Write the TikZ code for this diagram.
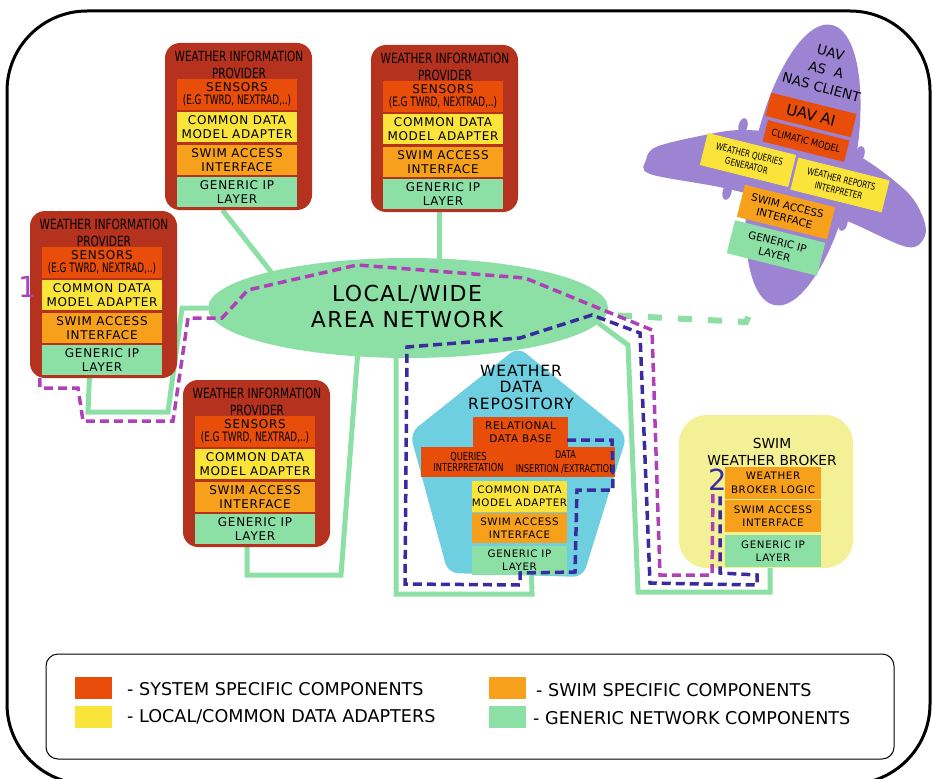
\documentclass[tikz,border=0pt]{standalone}
\usepackage{fontspec}
\setmainfont{DejaVu Sans}
\newfontfamily\trk{DejaVu Sans}[LetterSpace=6]
\newfontfamily\condA{DejaVu Sans}[FakeStretch=0.85]
\newfontfamily\condB{DejaVu Sans}[FakeStretch=0.75]
\newfontfamily\condC{DejaVu Sans}[FakeStretch=0.68]
\usetikzlibrary{backgrounds,calc,shapes.geometric}

\definecolor{provred}{RGB}{181,50,30}
\definecolor{sysred}{RGB}{232,78,10}
\definecolor{adapty}{RGB}{250,228,58}
\definecolor{swimor}{RGB}{246,160,28}
\definecolor{netgreen}{RGB}{140,224,166}
\definecolor{repoblue}{RGB}{110,207,224}
\definecolor{brokery}{RGB}{243,240,150}
\definecolor{uavpurple}{RGB}{157,132,210}
\definecolor{pathpurple}{RGB}{176,64,184}
\definecolor{pathblue}{RGB}{58,44,158}

% one weather information provider, placed by its top-left corner
\newcommand\wxprovider[3]{%
  \begin{scope}[shift={(#2,#3)}]
    \node[provbox] (#1) at (73.5,83.5) {};
    \node[provtitle] (#1t) at (74,22) {WEATHER INFORMATION\\PROVIDER};
    \node[syslayer, minimum height=31pt] (#1sen) at (72,51.5) {SENSORS\\{\condC\fontsize{13}{13.5}\selectfont (E.G TWRD, NEXTRAD,..)}};
    \node[cdmlayer] (#1cdm) at (72,84) {COMMON DATA\\MODEL ADAPTER};
    \node[swimlayer] (#1swim) at (72,117) {SWIM ACCESS\\INTERFACE};
    \node[genlayer] (#1gen) at (72,149) {GENERIC IP\\LAYER};
  \end{scope}}

\begin{document}
\begin{tikzpicture}[x=1pt,y=-1pt,
  provbox/.style={fill=provred, rounded corners=15pt, minimum width=147pt, minimum height=167pt, inner sep=0pt},
  provtitle/.style={align=center, inner sep=0pt, font=\condB\fontsize{14}{17}\selectfont},
  layer/.style={minimum width=120pt, minimum height=30pt, inner sep=0pt, align=center, font=\trk\fontsize{12}{13.5}\selectfont},
  syslayer/.style={layer, fill=sysred},
  cdmlayer/.style={layer, fill=adapty},
  swimlayer/.style={layer, fill=swimor},
  genlayer/.style={layer, fill=netgreen},
  small/.style={font=\trk\fontsize{10.3}{13}\selectfont},
  netlink/.style={draw=netgreen, line width=5pt},
  netdash/.style={draw=netgreen, line width=6pt, dash pattern=on 14pt off 16pt},
  routeA/.style={draw=pathpurple, line width=3.5pt, dash pattern=on 9pt off 5pt},
  routeB/.style={draw=pathblue, line width=3.5pt, dash pattern=on 9pt off 5pt},
  uavbox/.style={rotate=-14, inner sep=0pt, align=center},
  legsw/.style={minimum width=37pt, minimum height=22pt, inner sep=0pt},
  legtx/.style={anchor=west, inner sep=0pt, font=\fontsize{17.6}{20}\selectfont}]

\useasboundingbox (0,0) rectangle (933,778);

% outer frame
\draw[line width=3pt, rounded corners=80pt] (7,11) rectangle (930,784);

% providers
\wxprovider{pa}{165}{43}
\wxprovider{pb}{371}{45}
\wxprovider{pc}{30}{211}
\wxprovider{pd}{183}{380}

% network cloud
\node[ellipse, fill=netgreen, minimum width=400pt, minimum height=100pt, inner sep=0pt] (net) at (408,308) {};
\node[align=center, inner sep=0pt, font=\trk\fontsize{22}{26}\selectfont] (nett) at (407,306) {LOCAL/WIDE\\AREA NETWORK};

% weather data repository
\fill[repoblue, rounded corners=10pt] (518,347) -- (627,435) -- (583,577) -- (448,573) -- (410,433) -- cycle;
\node[align=center, inner sep=0pt, font=\trk\fontsize{15.5}{16.5}\selectfont] (repo) at (521,387) {WEATHER\\DATA\\REPOSITORY};
\node[syslayer, minimum width=95pt, font=\trk\fontsize{10.5}{12.5}\selectfont] (rdb) at (520.5,432) {RELATIONAL\\DATA BASE};
\node[syslayer, minimum width=95pt, font=\condB\fontsize{11}{11.5}\selectfont] (rqi) at (468.5,462) {QUERIES\\INTERPRETATION};
\node[syslayer, minimum width=95pt, font=\condB\fontsize{10.7}{14}\selectfont] (rdi) at (565.5,462) {DATA\\INSERTION /EXTRACTION};
\node[cdmlayer, minimum width=95pt, minimum height=31pt, small] (rcdm) at (519.5,496.5) {COMMON DATA\\MODEL ADAPTER};
\node[swimlayer, minimum width=95pt, small] (rswim) at (519.5,528) {SWIM ACCESS\\INTERFACE};
\node[genlayer, minimum width=95pt, minimum height=29pt, small] (rgen) at (519.5,560.5) {GENERIC IP\\LAYER};

% SWIM weather broker
\node[fill=brokery, rounded corners=28pt, minimum width=174pt, minimum height=153pt, inner sep=0pt] (broker) at (766,491.5) {};
\node[align=center, inner sep=0pt, font=\fontsize{13.8}{17}\selectfont] (brokert) at (772,451.5) {SWIM\\WEATHER BROKER};
\node[swimlayer, minimum width=96pt, minimum height=32pt, font=\trk\fontsize{10.3}{14}\selectfont] (blog) at (773,483) {WEATHER\\BROKER LOGIC};
\node[swimlayer, minimum width=96pt, minimum height=32pt, small] (bswim) at (773,516) {SWIM ACCESS\\INTERFACE};
\node[genlayer, minimum width=96pt, minimum height=32pt, small] (bgen) at (773,551) {GENERIC IP\\LAYER};

% UAV airframe: swept wing, fuselage and small engine pods
\fill[uavpurple] plot[smooth cycle, tension=0.55] coordinates {
  (646,160) (656,147) (700,136) (742,130) (800,136) (857,155) (905,190)
  (922,215) (925,236) (907,247) (847,221) (800,207) (724,188) (650,174)};
\fill[uavpurple, rotate around={-11.5:(803,165)}] (803,165) ellipse [x radius=51, y radius=143];
\foreach \ex/\ey in {743/126, 860/154, 727/192, 843/223}
  \fill[uavpurple, rotate around={-14:(\ex,\ey)}] (\ex,\ey) ellipse [x radius=4.5, y radius=8];
\node[rotate=-15, align=center, inner sep=0pt, font=\fontsize{13.5}{18}\selectfont] (uavt) at (826,70) {UAV\\AS\ \ A\\NAS CLIENT};
\node[uavbox, fill=sysred, minimum width=88pt, minimum height=24pt, font=\fontsize{15}{16}\selectfont] (uavai) at (811,115) {UAV AI};
\node[uavbox, fill=sysred, minimum width=84pt, minimum height=22pt, font=\condA\fontsize{9.7}{11}\selectfont] (clim) at (806,141) {CLIMATIC MODEL};
\node[uavbox, fill=adapty, minimum width=91pt, minimum height=33pt, font=\condB\fontsize{9.5}{12}\selectfont] (wqg) at (748,160) {WEATHER QUERIES\\GENERATOR};
\node[uavbox, fill=adapty, minimum width=94pt, minimum height=33pt, font=\condB\fontsize{9.5}{12}\selectfont] (wri) at (840,185) {WEATHER REPORTS\\INTERPRETER};
\node[uavbox, fill=swimor, minimum width=93pt, minimum height=33pt, font=\fontsize{10.5}{13}\selectfont] (uswim) at (786,212) {SWIM ACCESS\\INTERFACE};
\node[uavbox, fill=netgreen, minimum width=93pt, minimum height=34pt, font=\fontsize{10.5}{13}\selectfont] (ugen) at (776,248) {GENERIC IP\\LAYER};
\coordinate (uavtail) at (753,306);

% network links, behind the boxes
\begin{pgfonlayer}{background}
  \draw[netlink] ($(pa.south)+(-16,0)$) -- (275,277);
  \draw[netlink] ($(pb.south)+(-5,0)$) -- ++(0,55);
  \draw[netlink] ($(pc.south)+(-14,-3)$) -- (88,412) -- (168,412) -- (182,308) -- (net.west);
  \draw[netlink] ($(pdgen.south)+(-8,0)$) -- (247,575) -- (341,575) -- (358,350);
  \draw[netlink] ($(rgen.south)+(12,0)$) -- (532,594) -- (396,594) -- (396,350);
  \draw[netlink] ($(bgen.south)+(-3,0)$) -- (770,592) -- (638,592) -- (628,345) -- (597,322);
  \draw[netdash] (588,314) -- (746,322) -- (uavtail);
\end{pgfonlayer}

% numbered routes
\node[text=pathpurple, inner sep=0pt, font=\fontsize{29}{29}\selectfont] (labA) at (28,287) {1};
\node[text=pathblue, inner sep=0pt, font=\fontsize{29}{29}\selectfont] (labB) at (718,480) {2};
\coordinate (rAstart) at ($(pc.south west)+(10,0)$);
\coordinate (rAend) at (713,492);
\coordinate (rBstart) at ($(rdb.east)+(-1,8)$);
\coordinate (rBend) at (720,492);
\draw[routeA] (rAstart) -- (40,388) -- (78,388) -- (83,421) -- (173,421) -- (188,318) -- (222,318)
  -- (248,290) -- (357,265) -- (525,278) -- (652,330) -- (660,575) -- (712,575) -- (rAend);
\draw[routeB] (rBstart) -- (612,440) -- (613,490) -- (577,490) -- (575,572) -- (520,573) -- (520,585)
  -- (405,584) -- (407,347) -- (520,338) -- (592,315) -- (640,333) -- (650,583) -- (757,585)
  -- (757,575) -- (720,573) -- (rBend);

% legend
\draw[line width=1pt, rounded corners=12pt] (46,654) rectangle (894,759);
\node[legsw, fill=sysred] (ls1) at (93.5,688) {};
\node[legsw, fill=adapty] (ls2) at (93.5,716.5) {};
\node[legsw, fill=swimor] (ls3) at (507,688) {};
\node[legsw, fill=netgreen] (ls4) at (507.5,717) {};
\node[legtx] (lt1) at (127,689) {- SYSTEM SPECIFIC COMPONENTS};
\node[legtx] (lt2) at (127,717) {- LOCAL/COMMON DATA ADAPTERS};
\node[legtx] (lt3) at (536,690) {- SWIM SPECIFIC COMPONENTS};
\node[legtx] (lt4) at (533,718) {- GENERIC NETWORK COMPONENTS};
\end{tikzpicture}
\end{document}
